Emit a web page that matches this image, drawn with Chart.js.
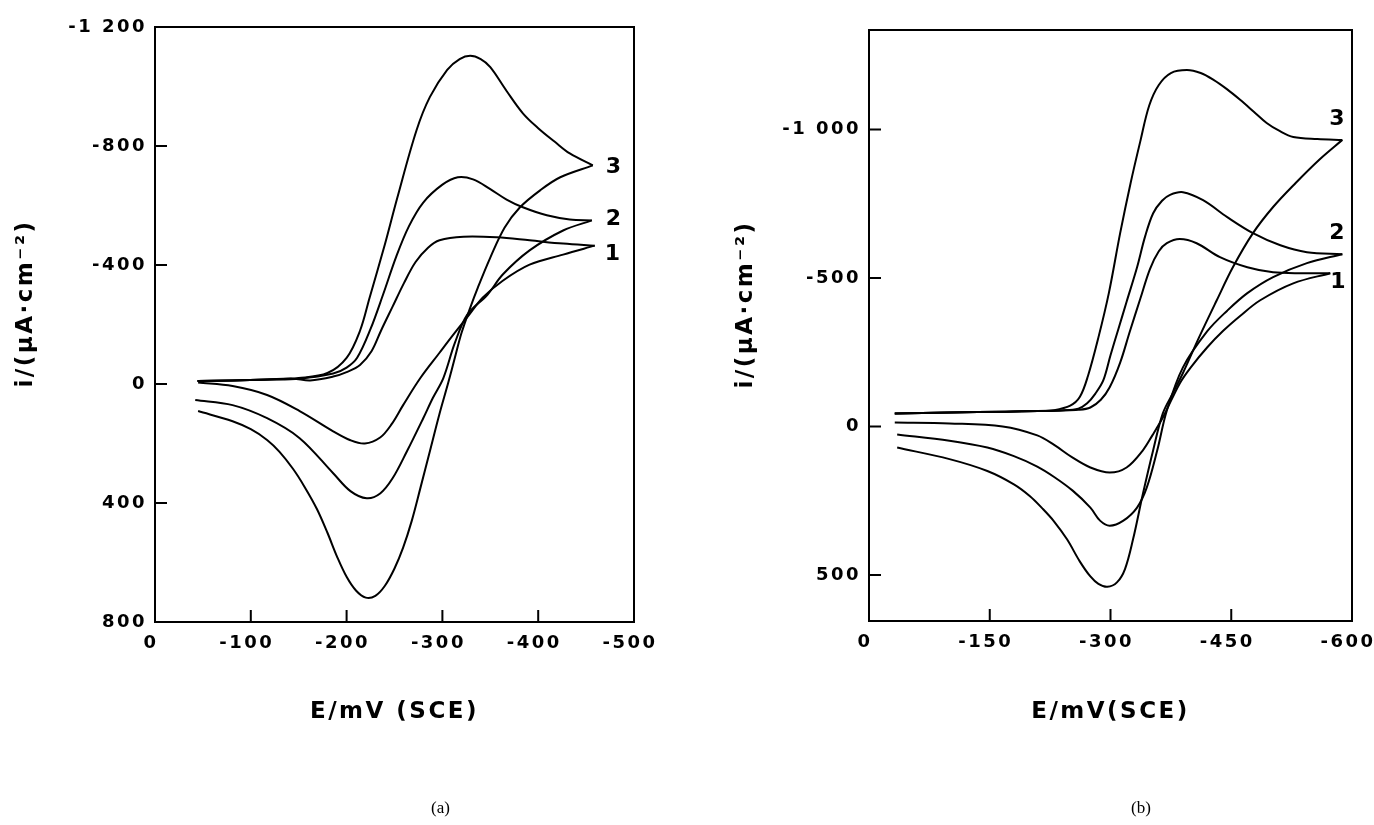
<!DOCTYPE html>
<html>
<head>
<meta charset="utf-8">
<script src="https://cdn.jsdelivr.net/npm/chart.js@4.4.1/dist/chart.umd.min.js"></script>
<style>
  html, body { margin: 0; padding: 0; background: #fff; overflow: hidden; }
  #wrap { position: relative; width: 1374px; height: 825px; }
  canvas { position: absolute; top: 0; }
  #chartA { left: 0; }
  #chartB { left: 687px; }
  .cap { position: absolute; font-family: "Liberation Serif", serif; font-size: 17px; color: #000; }
</style>
</head>
<body>
<div id="wrap">
  <canvas id="chartA" width="687" height="825"></canvas>
  <canvas id="chartB" width="687" height="825"></canvas>
  <div class="cap" style="left:431px; top:798px">(a)</div>
  <div class="cap" style="left:1131px; top:798px">(b)</div>
</div>
<script>
// E in mV (SCE), i in uA/cm2. "Fwd" = scan out to the vertex, "Rev" = return scan.

// ---- panel (a)
const aTicksX = [0, -100, -200, -300, -400, -500];
const aTicksY = [-1200, -800, -400, 0, 400, 800];

const a1FwdE = [-45, -81, -117, -144, -162, -186, -200, -214, -226, -236, -248, -260, -272, -285, -297, -322, -357, -391, -426, -459];
const a1FwdI = [-10, -12, -15, -18, -12, -25, -40, -64, -110, -180, -260, -340, -410, -458, -483, -495, -493, -483, -472, -465];
const a1RevE = [-459, -426, -391, -363, -342, -326, -310, -297, -277, -259, -247, -235, -219, -204, -186, -151, -117, -81, -45];
const a1RevI = [-465, -435, -401, -347, -290, -225, -160, -105, -20, 71, 135, 180, 200, 189, 159, 91, 37, 7, -5];

const a2FwdE = [-44, -81, -117, -151, -186, -200, -211, -225, -238, -252, -265, -280, -300, -316, -332, -350, -367, -384, -409, -433, -456];
const a2FwdI = [-10, -12, -15, -18, -35, -55, -88, -185, -300, -430, -530, -610, -670, -695, -688, -655, -620, -594, -567, -553, -550];
const a2RevE = [-456, -426, -391, -363, -347, -326, -313, -301, -290, -280, -263, -248, -235, -221, -204, -186, -151, -117, -81, -42];
const a2RevI = [-550, -516, -449, -368, -300, -233, -138, -20, 47, 115, 226, 317, 368, 384, 360, 300, 182, 115, 71, 54];

const a3FwdE = [-45, -80, -120, -150, -180, -200, -214, -224, -240, -253, -273, -287, -305, -318, -329, -340, -350, -367, -384, -400, -417, -433, -457];
const a3FwdI = [-10, -12, -15, -20, -37, -88, -179, -290, -470, -627, -853, -965, -1056, -1092, -1103, -1092, -1065, -985, -910, -860, -815, -775, -735];
const a3RevE = [-457, -423, -402, -381, -365, -350, -337, -329, -320, -313, -306, -297, -287, -277, -268, -259, -250, -240, -230, -220, -210, -200, -190, -180, -169, -156, -144, -130, -117, -100, -81, -45];
const a3RevI = [-735, -695, -651, -594, -526, -425, -324, -256, -172, -88, -3, 100, 225, 350, 460, 550, 620, 678, 712, 718, 695, 648, 580, 500, 420, 345, 285, 228, 188, 152, 125, 91];

// ---- panel (b)
const bTicksX = [0, -150, -300, -450, -600];
const bTicksY = [-1000, -500, 0, 500];

const b1FwdE = [-32, -100, -170, -210, -237, -260, -275, -288, -299, -312, -324, -337, -349, -360, -370, -386, -407, -436, -470, -502, -539, -573];
const b1FwdI = [-44, -47, -50, -52, -54, -56, -64, -90, -132, -215, -320, -430, -530, -590, -617, -631, -617, -570, -536, -519, -516, -516];
const b1RevE = [-573, -527, -486, -461, -440, -420, -400, -386, -365, -352, -340, -320, -299, -275, -253, -230, -209, -166, -100, -32];
const b1RevI = [-516, -482, -425, -372, -322, -266, -200, -145, -30, 30, 81, 138, 155, 138, 105, 62, 30, 0, -10, -13];

const b2FwdE = [-32, -100, -170, -210, -240, -260, -271, -281, -291, -300, -310, -320, -333, -343, -353, -364, -374, -390, -415, -445, -477, -511, -544, -588];
const b2FwdI = [-44, -47, -50, -52, -54, -60, -78, -110, -155, -240, -330, -420, -536, -640, -718, -760, -780, -789, -762, -705, -651, -610, -587, -580];
const b2RevE = [-588, -544, -502, -470, -445, -420, -390, -370, -358, -345, -333, -316, -299, -287, -275, -253, -230, -209, -180, -147, -100, -35];
const b2RevI = [-580, -550, -503, -449, -390, -320, -199, -54, 81, 206, 273, 317, 334, 317, 273, 216, 170, 135, 100, 71, 48, 27];

const b3FwdE = [-32, -100, -170, -210, -230, -250, -262, -272, -285, -298, -312, -325, -337, -348, -360, -375, -395, -412, -428, -445, -461, -478, -494, -510, -527, -557, -588];
const b3FwdI = [-44, -47, -50, -52, -55, -70, -100, -170, -300, -450, -651, -820, -960, -1080, -1150, -1190, -1200, -1190, -1167, -1135, -1100, -1060, -1022, -995, -975, -968, -965];
const b3RevE = [-588, -560, -530, -502, -477, -452, -432, -410, -390, -378, -365, -353, -340, -328, -318, -308, -296, -285, -275, -262, -246, -230, -215, -200, -180, -147, -100, -35];
const b3RevI = [-965, -900, -820, -739, -651, -536, -425, -300, -180, -115, -44, 80, 230, 380, 480, 525, 540, 530, 505, 455, 380, 320, 275, 235, 195, 150, 110, 71];

const FONT = "'DejaVu Sans', 'Liberation Sans', sans-serif";
Chart.defaults.font.family = FONT;
Chart.defaults.color = "#000";

function fmtTick(v) {
  const s = String(Math.abs(v)).replace(/\B(?=(\d{3})+(?!\d))/g, " ");
  return v < 0 ? "-" + s : s;
}

function branch(E, I) {
  return {
    data: E.map((e, k) => ({ x: e, y: I[k] })),
    showLine: true,
    borderColor: "#000",
    borderWidth: 2,
    pointRadius: 0,
    tension: 0.35,
  };
}

// box, inward tick marks and the 1/2/3 curve numbers
const framePlugin = {
  id: "frame",
  beforeDraw(chart) {
    chart.ctx.letterSpacing = "2.5px";
  },
  afterDatasetsDraw(chart, args, opts) {
    const { ctx, chartArea: a, scales } = chart;
    ctx.save();
    ctx.strokeStyle = "#000";
    ctx.lineWidth = 2;
    ctx.strokeRect(a.left, a.top, a.right - a.left, a.bottom - a.top);

    ctx.beginPath();
    scales.x.ticks.forEach((t) => {
      if (t.value === scales.x.min || t.value === scales.x.max) return;
      const px = scales.x.getPixelForValue(t.value);
      ctx.moveTo(px, a.bottom);
      ctx.lineTo(px, a.bottom - 12);
    });
    scales.y.ticks.forEach((t) => {
      if (t.value === scales.y.min || t.value === scales.y.max) return;
      const py = scales.y.getPixelForValue(t.value);
      ctx.moveTo(a.left, py);
      ctx.lineTo(a.left + 12, py);
    });
    ctx.stroke();

    ctx.font = "bold 22px " + FONT;
    ctx.fillStyle = "#000";
    ctx.textAlign = "left";
    ctx.textBaseline = "middle";
    ctx.letterSpacing = "0px";
    opts.tags.forEach((tag) => {
      const pts = chart.getDatasetMeta(tag.ds).data;
      const p = pts[pts.length - 1];
      ctx.fillText(tag.text, p.x + tag.dx, p.y + tag.dy);
    });
    ctx.restore();
  },
};

function makeCV(id, cfg) {
  return new Chart(document.getElementById(id), {
    type: "scatter",
    data: { datasets: cfg.datasets },
    plugins: [framePlugin],
    options: {
      responsive: false,
      animation: false,
      layout: { padding: { left: 0, top: cfg.top, right: cfg.right, bottom: 0 } },
      plugins: {
        legend: { display: false },
        tooltip: { enabled: false },
        frame: { tags: cfg.tags },
      },
      scales: {
        x: {
          type: "linear",
          min: cfg.xMin,
          max: cfg.xMax,
          reverse: true,
          afterBuildTicks: (s) => { s.ticks = cfg.xTicks.map((v) => ({ value: v })); },
          afterFit: (s) => {
            s.height = cfg.xHeight;
            s.paddingLeft = 0;
            s.paddingRight = 0;
          },
          ticks: {
            callback: fmtTick,
            font: { size: 18, weight: "bold" },
            padding: 11,
            labelOffset: -4,
            maxRotation: 0,
            autoSkip: false,
          },
          grid: { display: false, drawTicks: false },
          border: { display: false },
          title: {
            display: true,
            text: cfg.xTitle,
            font: { size: 23, weight: "bold" },
            padding: { top: 0, bottom: cfg.xTitlePad },
          },
        },
        y: {
          type: "linear",
          min: cfg.yMin,
          max: cfg.yMax,
          reverse: true,
          afterBuildTicks: (s) => { s.ticks = cfg.yTicks.map((v) => ({ value: v })); },
          afterFit: (s) => {
            s.width = cfg.yWidth;
            s.paddingTop = 0;
            s.paddingBottom = 0;
          },
          ticks: {
            callback: fmtTick,
            font: { size: 18, weight: "bold" },
            padding: 8,
            autoSkip: false,
          },
          grid: { display: false, drawTicks: false },
          border: { display: false },
          title: {
            display: true,
            // leading spaces lift the centred title a little, as in the original
            text: "    i/(μA·cm⁻²)",
            font: { size: 23, weight: "bold" },
            padding: { top: cfg.yTitlePad, bottom: 0 },
          },
        },
      },
    },
  });
}

makeCV("chartA", {
  datasets: [
    branch(a1FwdE, a1FwdI), branch(a1RevE, a1RevI),
    branch(a2FwdE, a2FwdI), branch(a2RevE, a2RevI),
    branch(a3FwdE, a3FwdI), branch(a3RevE, a3RevI),
  ],
  tags: [
    { text: "1", ds: 0, dx: 10, dy: 9 },
    { text: "2", ds: 2, dx: 14, dy: -1 },
    { text: "3", ds: 4, dx: 13, dy: 2 },
  ],
  xMin: -500, xMax: 0, xTicks: aTicksX,
  yMin: -1200, yMax: 800, yTicks: aTicksY,
  top: 27, right: 53, xHeight: 203, yWidth: 155,
  xTitle: "E/mV (SCE)", xTitlePad: 99, yTitlePad: 12,
});

makeCV("chartB", {
  datasets: [
    branch(b1FwdE, b1FwdI), branch(b1RevE, b1RevI),
    branch(b2FwdE, b2FwdI), branch(b2RevE, b2RevI),
    branch(b3FwdE, b3FwdI), branch(b3RevE, b3RevI),
  ],
  tags: [
    { text: "1", ds: 0, dx: 0, dy: 9 },
    { text: "2", ds: 2, dx: -13, dy: -21 },
    { text: "3", ds: 4, dx: -13, dy: -21 },
  ],
  xMin: -600, xMax: 0, xTicks: bTicksX,
  yMin: -1335, yMax: 655, yTicks: bTicksY,
  top: 30, right: 22, xHeight: 204, yWidth: 182,
  xTitle: "E/mV(SCE)", xTitlePad: 99, yTitlePad: 45,
});
</script>
</body>
</html>
